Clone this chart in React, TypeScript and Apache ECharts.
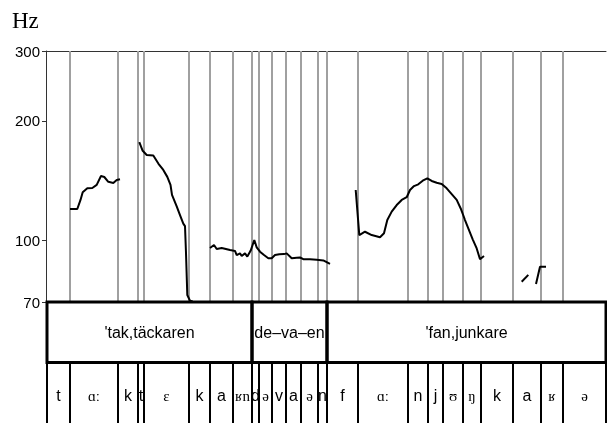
import React, { useEffect, useRef } from "react";
import * as echarts from "echarts";

// Time axis in arbitrary units (segment boundaries)
const segBounds = [1, 24, 72, 92, 98, 143, 164, 187, 206, 213, 226, 240, 255, 272, 281, 312, 362, 382, 397, 417, 435, 467, 495, 517, 560];
const phonemes = ["t", "ɑː", "k", "t", "ɛ", "k", "a", "ʁn", "d", "ə", "v", "a", "ə", "n", "f", "ɑː", "n", "j", "ʊ", "ŋ", "k", "a", "ʁ", "ə"];
const ipaSerif = ["ɑː", "ɛ", "ʁn", "ʁ", "ə", "ʊ", "ŋ"];
const words = ["'tak,täckaren", "de–va–en", "'fan,junkare"];
const wordBounds = [1, 206, 281, 560];
const tickHz = [70, 100, 200, 300];

// Pitch contour segments (time, Hz)
const t1 = [24, 31.3, 34.5, 36.7, 41.3, 46.3, 50.7, 55, 58.3, 62.3, 67.3, 70.7, 74];
const f1 = [120, 120, 126.5, 132.3, 135.4, 135.6, 138, 145.3, 144.5, 140.5, 139.6, 142, 142.6];
const t2 = [93.3, 96.7, 100.7, 107.3, 112.5, 117.3, 121.3, 124.5, 126, 130.7, 134, 137.3, 139, 140, 141.3, 144, 146.7];
const f2 = [176.8, 168.2, 164.2, 163.6, 156, 150.5, 144.6, 138, 130.2, 121.8, 115.9, 110.3, 108.7, 93, 72.9, 70.5, 70.2];
const t3 = [164, 168, 170.7, 175.7, 184, 189, 190.7, 194, 195.7, 199, 201.3, 204.7, 208.3, 210.7, 214, 218, 222.3, 225.7, 229, 233.3, 238, 240.7, 245.7, 250.7, 254, 257.3, 264, 270.7, 277.3, 284];
const f3 = [95.7, 97.4, 95.2, 95.7, 94.6, 94.1, 91.9, 92.8, 91.4, 92.8, 91.1, 94.3, 100.3, 96.1, 93.7, 91.9, 90.2, 90.2, 91.9, 92.3, 92.4, 92.8, 90.2, 90.5, 90.6, 89.7, 89.7, 89.4, 89.1, 87.3];
const t4 = [309.7, 313.3, 319, 325.7, 334, 338, 341.3, 345.7, 350.7, 355.7, 360.7, 364, 368, 372.3, 376.7, 381.3, 385.7, 390.7, 395.7, 400.7, 405.7, 410.7, 414.7, 419, 422.3, 426.7, 430.7, 434, 438];
const f4 = [134, 103.2, 105.2, 103.2, 101.9, 104.3, 112.6, 118.2, 122.8, 126.5, 128.5, 134, 137.1, 138.5, 141.4, 143.4, 141.2, 139.8, 138.8, 135.3, 130.9, 126.5, 120.4, 112.6, 107.3, 100.7, 95.5, 89.7, 91.4];
const t5 = [475.7, 482.3];
const f5 = [78.7, 81.9];
const t6 = [490, 494, 500];
const f6 = [77.7, 85.9, 85.9];

const segments = [
  [t1, f1],
  [t2, f2],
  [t3, f3],
  [t4, f4],
  [t5, f5],
  [t6, f6],
];

const X_MAX = 560;

export default function App() {
  const ref = useRef<HTMLDivElement>(null);
  useEffect(() => {
    if (!ref.current) return;
    const chart = echarts.init(ref.current, undefined, { renderer: "svg" });
    const lg = (v: number) => Math.log10(v);

    const pitchSeries = segments.map(([t, f]) => ({
      type: "line",
      xAxisIndex: 0,
      yAxisIndex: 0,
      data: t.map((x, i) => [x, lg(f[i])]),
      symbol: "none",
      z: 5,
      lineStyle: { color: "#000", width: 2 },
      silent: true,
    }));

    const wordData = words.map((w, i) => [wordBounds[i], wordBounds[i + 1], i]);
    const phData = phonemes.map((p, i) => [segBounds[i], segBounds[i + 1], i]);

    const option: any = {
      animation: false,
      title: {
        text: "Hz",
        left: 12,
        top: 9,
        padding: 0,
        textStyle: { fontFamily: "Liberation Serif", fontSize: 23, fontWeight: "normal", color: "#000" },
      },
      grid: [
        { left: 46, right: 1, top: 51, height: 251 },
        { left: 46, right: 1, top: 302, height: 122 },
      ],
      xAxis: [
        {
          type: "value",
          gridIndex: 0,
          min: 0,
          max: X_MAX,
          position: "top",
          axisLine: { show: true, onZero: false, lineStyle: { color: "#333", width: 1 } },
          axisTick: { show: false },
          axisLabel: { show: false },
          splitLine: { show: false },
        },
        { type: "value", gridIndex: 1, min: 0, max: X_MAX, show: false },
      ],
      yAxis: [
        {
          type: "value",
          gridIndex: 0,
          min: lg(70),
          max: lg(300),
          axisLine: { show: true, lineStyle: { color: "#333", width: 1 } },
          axisTick: { show: true, length: 4, customValues: tickHz.map(lg), lineStyle: { color: "#333" } },
          axisLabel: {
            customValues: tickHz.map(lg),
            formatter: (v: number) => String(Math.round(Math.pow(10, v))),
            fontSize: 15,
            fontFamily: "Liberation Sans",
            color: "#000",
            margin: 6,
          },
          splitLine: { show: false },
        },
        { type: "value", gridIndex: 1, min: 0, max: 2, inverse: true, show: false },
      ],
      series: [
        {
          type: "line",
          xAxisIndex: 0,
          yAxisIndex: 0,
          data: [],
          z: 1,
          silent: true,
          markLine: {
            silent: true,
            symbol: ["none", "none"],
            label: { show: false },
            lineStyle: { color: "#a0a0a0", width: 2, type: "solid" },
            data: segBounds.slice(1, -1).map((b) => ({ xAxis: b })),
          },
        },
        ...pitchSeries,
        {
          type: "custom",
          xAxisIndex: 1,
          yAxisIndex: 1,
          data: wordData,
          encode: { x: [0, 1] },
          silent: true,
          z: 6,
          renderItem: (params: any, api: any) => {
            const s = api.value(0);
            const e = api.value(1);
            const i = api.value(2);
            const p1 = api.coord([s, 0]);
            const p2 = api.coord([e, 1]);
            return {
              type: "group",
              children: [
                {
                  type: "rect",
                  shape: { x: p1[0], y: p1[1], width: p2[0] - p1[0], height: p2[1] - p1[1] },
                  style: { fill: "none", stroke: "#000", lineWidth: 3 },
                },
                {
                  type: "text",
                  style: {
                    text: words[i],
                    x: (p1[0] + p2[0]) / 2,
                    y: (p1[1] + p2[1]) / 2,
                    align: "center",
                    verticalAlign: "middle",
                    fontSize: 16,
                    fontFamily: "Liberation Sans",
                    fill: "#000",
                  },
                },
              ],
            };
          },
        },
        {
          type: "custom",
          xAxisIndex: 1,
          yAxisIndex: 1,
          data: phData,
          encode: { x: [0, 1] },
          silent: true,
          z: 6,
          renderItem: (params: any, api: any) => {
            const s = api.value(0);
            const e = api.value(1);
            const i = api.value(2);
            const p1 = api.coord([s, 1]);
            const p2 = api.coord([e, 2]);
            const pm = api.coord([(s + e) / 2, 1.55]);
            const lab = phonemes[i];
            const serif = ipaSerif.indexOf(lab) >= 0;
            return {
              type: "group",
              children: [
                {
                  type: "rect",
                  shape: { x: p1[0], y: p1[1], width: p2[0] - p1[0], height: p2[1] - p1[1] + 4 },
                  style: { fill: "none", stroke: "#000", lineWidth: 2 },
                },
                {
                  type: "text",
                  style: {
                    text: lab,
                    x: pm[0],
                    y: pm[1],
                    align: "center",
                    verticalAlign: "middle",
                    fontSize: serif ? 15 : 16,
                    fontFamily: serif ? "Liberation Serif" : "Liberation Sans",
                    fill: "#000",
                  },
                },
              ],
            };
          },
        },
      ],
    };
    chart.setOption(option);
    return () => chart.dispose();
  }, []);
  return <div ref={ref} style={{ position: "fixed", left: 0, top: 0, width: 607, height: 423 }} />;
}
